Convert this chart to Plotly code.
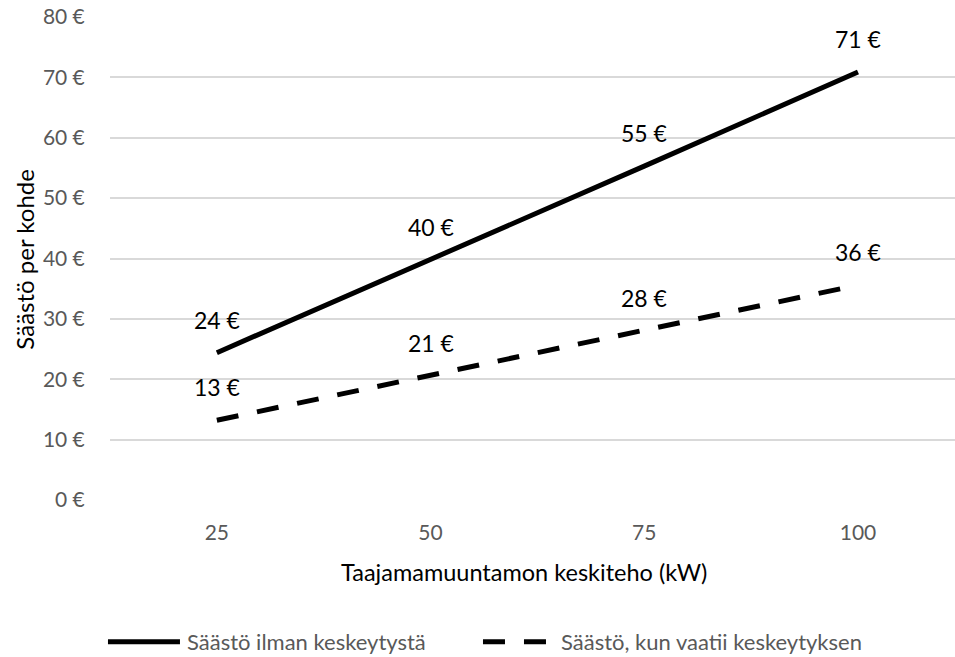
import plotly.graph_objects as go

# Average transformer power categories (kW)
categories = ["25", "50", "75", "100"]

# Savings per site (EUR)
savings_no_outage = [24.4, 39.8, 55.3, 70.9]
savings_with_outage = [13.2, 20.6, 28.0, 35.6]

series_names = ["Säästö ilman keskeytystä", "Säästö, kun vaatii keskeytyksen"]
y_ticks = [0, 10, 20, 30, 40, 50, 60, 70, 80]

FONT = "Lato"
GRAY = "#595959"
DASH = "22px,19px"

fig = go.Figure()

fig.add_trace(go.Scatter(
    x=categories, y=savings_no_outage, mode="lines",
    line=dict(color="black", width=5), name=series_names[0], showlegend=False,
))
fig.add_trace(go.Scatter(
    x=categories, y=savings_with_outage, mode="lines",
    line=dict(color="black", width=5, dash=DASH), name=series_names[1], showlegend=False,
))

# Value labels above each point (x given as category index)
for series in (savings_no_outage, savings_with_outage):
    for i, v in enumerate(series):
        fig.add_annotation(
            x=i, y=v, xref="x", yref="y", text=f"{v:.0f} €", showarrow=False,
            yshift=33, font=dict(family=FONT, size=23, color="black"),
        )

# Axis titles
fig.add_annotation(xref="paper", yref="paper", x=0.4895, y=-0.149,
                   text="Taajamamuuntamon keskiteho (kW)", showarrow=False,
                   xanchor="center", yanchor="middle",
                   font=dict(family=FONT, size=23.5, color="black"))
fig.add_annotation(xref="paper", yref="paper", x=-0.101, y=0.499,
                   text="Säästö per kohde", showarrow=False, textangle=-90,
                   xanchor="center", yanchor="middle",
                   font=dict(family=FONT, size=24, color="black"))

# Legend drawn below the axis title
legend_y = -0.2934
fig.add_shape(type="line", xref="paper", yref="paper",
              x0=-0.0024, x1=0.0828, y0=legend_y, y1=legend_y,
              line=dict(color="black", width=5))
fig.add_annotation(xref="paper", yref="paper", x=0.0885, y=legend_y,
                   text=series_names[0], showarrow=False,
                   xanchor="left", yanchor="middle",
                   font=dict(family=FONT, size=22, color=GRAY))
fig.add_shape(type="line", xref="paper", yref="paper",
              x0=0.4414, x1=0.5160, y0=legend_y, y1=legend_y,
              line=dict(color="black", width=5, dash=DASH))
fig.add_annotation(xref="paper", yref="paper", x=0.5310, y=legend_y,
                   text=series_names[1], showarrow=False,
                   xanchor="left", yanchor="middle",
                   font=dict(family=FONT, size=22, color=GRAY))

fig.update_layout(
    width=955, height=657,
    margin=dict(l=110, r=0, t=17, b=157),
    plot_bgcolor="white", paper_bgcolor="white",
    font=dict(family=FONT, color=GRAY),
    showlegend=False,
)

fig.update_xaxes(
    type="category", range=[-0.5, 3.454],
    showgrid=False, zeroline=False, showline=False,
    tickfont=dict(family=FONT, size=21, color=GRAY),
    ticks="outside", ticklen=14, tickcolor="rgba(0,0,0,0)",
)
fig.update_yaxes(
    range=[0, 80], tickvals=y_ticks, ticktext=[f"{v} €" for v in y_ticks],
    showgrid=True, gridcolor="#d9d9d9", gridwidth=1.5,
    zeroline=False, showline=False,
    tickfont=dict(family=FONT, size=21, color=GRAY),
    ticks="outside", ticklen=20, tickcolor="rgba(0,0,0,0)",
)

fig.write_html("out.html")
